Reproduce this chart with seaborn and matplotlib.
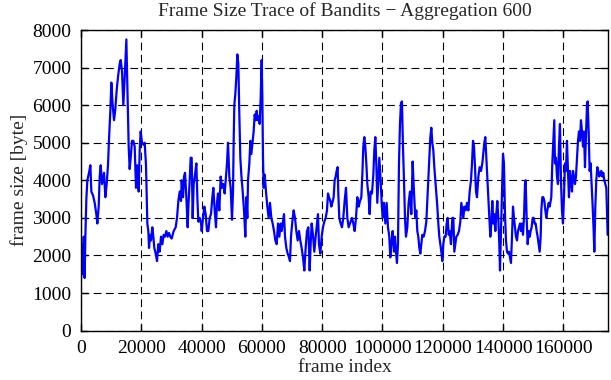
import numpy as np
import pandas as pd
import matplotlib
matplotlib.use("Agg")
import matplotlib.pyplot as plt
import seaborn as sns


# ======================================================
# Data
# ======================================================
frame_index = [
    0, 300, 600, 900, 1200, 1440, 1770, 2100, 2650, 3100, 3430, 3980, 4530,
    5080, 5420, 5860, 6200, 6530, 6960, 7630, 8070, 8510, 8950, 9290, 9730,
    10060, 10500, 10950, 11390, 11830, 12270, 12820, 13160, 13600, 14040,
    14490, 15040, 15590, 15810, 16140, 16480, 16920, 17360, 17800, 18240,
    18680, 19130, 19460, 19790, 20230, 20680, 21120, 21560, 22000,
    22330, 22560, 22890, 23220, 23660, 23990, 24320, 24770, 25210, 25650,
    26090, 26540, 26980, 27420, 27860, 28310, 28750, 29190, 29630, 30080,
    30740, 31400, 31840, 32290, 32730, 33170, 33390, 33840, 34170, 34500,
    34940, 35380, 35610, 36050, 36380, 36710, 37040, 37380, 37820, 38260,
    38590, 38920, 39370, 39810, 40030, 40470, 40910, 41350, 41800, 42240,
    42680, 43120, 43570, 43900, 44340,
    44780, 45110, 45440, 45880, 46330, 46770, 47210, 47650, 48100, 48430,
    48760, 49200, 49640, 50090, 50420, 50640, 50860, 51190, 51520, 51860,
    52190, 52520, 52850, 53180, 53630, 54070, 54510, 54840, 55170, 55400,
    55840, 56170, 56500, 56940, 57270, 57610, 57940, 58270, 58600, 58930,
    59260, 59600, 59930, 60150, 60370, 60590, 60920, 61360, 61810, 62250,
    62690, 63130, 63580, 64020, 64460, 64900, 65350, 65790, 66230, 66560,
    67000, 67330, 67670, 68110, 68550, 68990, 69320, 69660, 70100, 70540,
    70980, 71420, 71870, 72310, 72750, 73190, 73640, 74080, 74520, 74960,
    75410, 75850, 76180, 76510, 76950, 77390, 77840, 78280, 78610, 78940,
    79390, 79830, 80270, 80710, 81160, 81600, 81930, 82260, 82700, 83030,
    83370, 83810, 84140, 84470, 84800, 85130, 85350, 85680, 86130, 86570,
    87010, 87450, 87900, 88340, 88780,
    89450, 89890, 90330, 90780, 91220, 91660, 92100, 92550, 92990, 93320,
    93650, 93980, 94310, 94650, 94980, 95420, 95750, 96080, 96530, 96970,
    97300, 97630, 97960, 98290, 98630, 98960, 99400, 99730, 100060, 100500,
    100950, 101390, 101830, 102270, 102600, 102940, 103380, 103820, 104150,
    104480, 104810, 105150, 105480, 105810, 106140, 106470, 106800, 107140,
    107470, 107800, 108240, 108680, 109130, 109570, 110010, 110450, 110890,
    111230, 111560, 111890, 112230, 112560, 112890, 113220, 113660, 114110,
    114550, 114880, 115210, 115540, 115880, 116210, 116540, 116870, 117200,
    117530, 117870, 118200, 118530, 118860, 119190, 119530, 119860, 120190,
    120520, 120960, 121290, 121630, 121960, 122290, 122730, 123180, 123510,
    123840, 124170, 124500, 124950, 125390, 125830, 126160, 126500, 126830,
    127160, 127600, 128040, 128490, 128930, 129370, 129700, 130040, 130370,
    130700, 131030, 131360, 131810, 132250, 132690, 133130,
    133790, 134120, 134450, 134780, 135110, 135450, 135780, 136110, 136440,
    136770, 137100, 137440, 137770, 138100, 138430, 138760, 138990, 139320,
    139650, 139980, 140310, 140640, 140980, 141310, 141640, 141970, 142300,
    142630, 142970, 143300, 143630, 143960, 144290, 144630, 144960, 145290,
    145620, 145950, 146280, 146620, 146950, 147280, 147500, 147830, 148170,
    148500, 148830, 149160, 149490, 149830, 150160, 150490, 150820, 151150,
    151480, 151820, 152150, 152480, 152700, 153030, 153360, 153700, 154030,
    154360, 154690, 155140, 155470,
    156010, 156340, 156670, 157000, 157220, 157560, 157890, 158220, 158550,
    158880, 159220, 159550, 159880, 160210, 160540, 160870, 161210, 161540,
    161870, 162200, 162530, 162870, 163200, 163530, 163860, 164190, 164530,
    164860, 165190, 165520, 165850, 166190, 166520, 166850, 167180, 167510,
    167840, 168070, 168400, 168730, 169060, 169390, 169730, 170060, 170280,
    170610, 170940, 171270, 171600, 171940, 172270, 172600, 172930, 173260,
    173600, 173930, 174260, 174480, 174700,
]

frame_size = [
    1400, 2300, 1500, 2500, 1400, 2500, 3500, 4000, 4200, 4400, 3700, 3600, 3400,
    3100, 2850, 3300, 4100, 4400, 3900, 4200, 3550, 3900, 4400, 5100, 5850,
    6600, 6000, 5600, 5900, 6400, 6750, 7100, 7200, 6900, 6000,
    6750, 7750, 5700, 4900, 4300, 4600, 5050, 5050, 4900, 3800,
    4400, 3700, 4800, 5300, 5000, 4950, 5000, 4400, 2850,
    2650, 2200, 2550, 2400, 2750, 2500, 2200, 2050, 1850, 2300,
    2100, 2500, 2300, 2550, 2500, 2650, 2500, 2600, 2500, 2450,
    2650, 2750, 3000, 3450, 3700, 3450, 4000, 3550, 4100, 4200,
    3550, 2750, 3300, 4000, 4600, 4600, 3000, 3900, 4150, 4450,
    3550, 2900, 3000, 2850, 2650, 3000, 3300, 3100, 2650, 2650,
    3000, 3100, 3550, 3800, 3200,
    2750, 3400, 3650, 3200, 4100, 3800, 3900, 3650, 4100, 4450,
    5000, 4100, 3800, 2950, 3700, 5050, 6000, 6300, 6750, 7350,
    7100, 5750, 4600, 4150, 3700, 3200, 2500, 3550, 3000, 4000,
    4450, 5050, 4700, 5050, 5300, 5750, 5600, 5850, 5600, 5700,
    5500, 6200, 7200, 6200, 4600, 3800, 4150, 3700, 3300, 3000,
    3400, 3000, 2850, 2650, 2400, 2300, 2850, 2500, 2850, 2650,
    2900, 3100, 2500, 2200, 2050, 1950, 1850, 2500, 2900, 3200,
    3000, 2650, 2400, 2650, 2400, 2200, 1950, 1600, 2200, 2650,
    2750, 1600, 2300, 2850, 2550, 2100, 2500, 2850, 3100, 2300,
    2050, 2500, 2750, 2900, 3000, 3200, 3650, 3550, 3450, 3300,
    3400, 3550, 4000, 4100, 4250, 4350, 3650, 3000, 2850, 2750,
    3000, 3450, 3800, 3000, 2750,
    2900, 3000, 2850, 2650, 3000, 3550, 3300, 3450, 3550, 4150,
    4900, 5150, 4900, 4450, 3900, 3550, 3100, 3700, 3650, 4150,
    4800, 5150, 4450, 3400, 4000, 4600, 4000, 3400, 3000, 3400,
    2850, 3400, 2750, 2500, 1950, 2300, 2650, 2100, 2500,
    2100, 1800, 2300, 4450, 5500, 6050, 6100, 4900, 4000,
    3000, 2500, 2750, 3400, 3700, 3100, 4500, 3700, 3000,
    3200, 2650, 2500, 2200, 2050, 2300, 2550, 2500, 2650,
    2900, 3450, 4000, 4600, 5150, 5400, 5000, 4800, 4350,
    4000, 3650, 3300, 2850, 2500, 2300, 2100, 1850, 2300,
    2500, 2500, 2850, 3000, 2550, 2650, 2300, 3000, 3000,
    2100, 2300, 2500, 2550, 2650, 2900, 3400, 3200, 3000,
    3300, 3200, 3400, 3200, 3700, 4000, 4450, 5050, 4900,
    4350, 3700, 3550, 4100, 4350, 4250, 4450,
    5000, 5150, 4600, 4000, 3550, 3000, 2500, 2850, 3450,
    2850, 3100, 2650, 3100, 3450, 3000, 2300, 1600, 2650,
    3700, 4700, 4450, 3100, 2400, 2100, 2050, 2100, 1950,
    1800, 2500, 3300, 3000, 2750, 2500, 2400, 2650, 2750,
    2850, 2650, 2850, 2550, 3000, 3900, 4000, 3000, 2300,
    2650, 2500, 2650, 2750, 3000, 3000, 2850, 2850, 2650,
    2500, 2300, 2100, 2500, 3200, 3550, 3550, 3450, 3200,
    3000, 3200, 3400, 3300,
    3550, 4450, 5050, 5600, 4450, 4600, 4100, 3900, 4900,
    5500, 4000, 3200, 2850, 3550, 4450, 4250, 5050, 4250,
    3550, 4250, 4000, 3700, 4250, 4100, 3900, 4100, 4600,
    5050, 5300, 5050, 5600, 5300, 4900, 5300, 4350, 5150,
    6000, 6100, 5300, 4250, 4450, 3900, 3300, 2650, 2100,
    3300, 4000, 4350, 4250, 4100, 4200, 4250, 4100, 4200,
    4000, 3900, 3800, 3200, 2550,
]

x_ticks = [0, 20000, 40000, 60000, 80000, 100000, 120000, 140000, 160000]
y_ticks = [0, 1000, 2000, 3000, 4000, 5000, 6000, 7000, 8000]

df = pd.DataFrame({"frame index": frame_index, "frame size [byte]": frame_size})


# ======================================================
# Style
# ======================================================
sns.set_style("ticks")
plt.rcParams["font.family"] = ["Liberation Serif", "DejaVu Serif"]
plt.rcParams["font.size"] = 14
plt.rcParams["axes.linewidth"] = 1.0


# ======================================================
# Plot
# ======================================================
fig = plt.figure(figsize=(6.11, 3.80), dpi=100)
ax = fig.add_axes([0.1326, 0.130, 0.8624, 0.791])

sns.lineplot(data=df, x="frame index", y="frame size [byte]", ax=ax,
             color="#0000ff", linewidth=1.6, estimator=None, sort=False)

ax.set_xlim(0, 174800)
ax.set_ylim(0, 8000)
ax.set_xticks(x_ticks)
ax.set_yticks(y_ticks)
ax.set_xticklabels([str(v) for v in x_ticks])
ax.set_yticklabels([str(v) for v in y_ticks])

ax.grid(True, color="black", linestyle=(0, (7, 4)), linewidth=0.8)
ax.tick_params(direction="in", length=5, width=1, top=True, right=True,
               labelsize=14, pad=7, colors="black")
for side in ["top", "right", "left", "bottom"]:
    ax.spines[side].set_visible(True)
    ax.spines[side].set_color("black")

ax.set_title("Frame Size Trace of Bandits \u2212 Aggregation 600", fontsize=14, pad=10)
ax.set_xlabel("frame index", fontsize=14, labelpad=1)
ax.set_ylabel("frame size [byte]", fontsize=14, labelpad=3)

fig.savefig("out.png", dpi=100)
plt.close(fig)
